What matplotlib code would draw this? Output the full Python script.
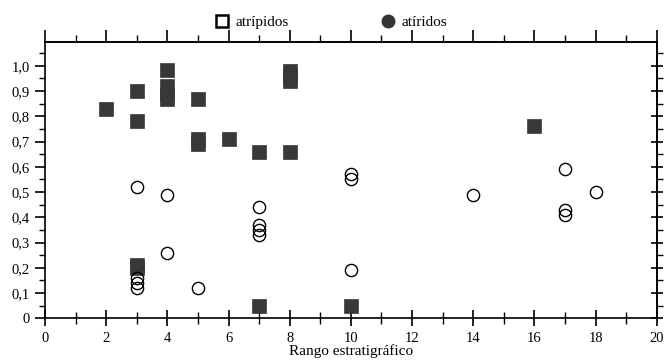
import numpy as np
import matplotlib
matplotlib.use("Agg")
import matplotlib.pyplot as plt
from matplotlib.lines import Line2D

plt.rcParams['font.family'] = ['Liberation Serif', 'DejaVu Serif']

# filled squares (drawn dark) and open circles
sq_x = [2, 3, 3, 3, 3, 4, 4, 4, 4, 5, 5, 5, 6, 7, 7, 8, 8, 8, 8, 10, 16]
sq_y = [0.83, 0.90, 0.78, 0.21, 0.20, 0.985, 0.92, 0.89, 0.87, 0.87, 0.71, 0.69,
        0.71, 0.66, 0.05, 0.66, 0.98, 0.96, 0.94, 0.05, 0.76]

ci_x = [3, 3, 3, 3, 4, 4, 5, 7, 7, 7, 7, 10, 10, 10, 14, 17, 17, 17, 18]
ci_y = [0.52, 0.16, 0.14, 0.12, 0.49, 0.26, 0.12, 0.44, 0.37, 0.35, 0.33,
        0.57, 0.55, 0.19, 0.49, 0.59, 0.43, 0.41, 0.50]

y_ticks = [0, 0.1, 0.2, 0.3, 0.4, 0.5, 0.6, 0.7, 0.8, 0.9, 1.0]
y_labels = ["0", "0,1", "0,2", "0,3", "0,4", "0,5", "0,6", "0,7", "0,8", "0,9", "1,0"]
x_ticks = [0, 2, 4, 6, 8, 10, 12, 14, 16, 18, 20]

fig = plt.figure(figsize=(6.66, 3.62), dpi=100)
ax = fig.add_axes([0.0676, 0.1207, 0.9185, 0.7633])

ax.plot(sq_x, sq_y, linestyle='none', marker='s', ms=9.6,
        mfc='#383838', mec='#383838', mew=0.5, zorder=3)
ax.plot(ci_x, ci_y, linestyle='none', marker='o', ms=8.8,
        mfc='none', mec='black', mew=1.0, zorder=4)

ax.set_xlim(0, 20)
ax.set_ylim(0, 1.094)

ax.set_xticks(x_ticks)
ax.set_xticks(np.arange(1, 20, 2), minor=True)
ax.set_yticks(y_ticks)
ax.set_yticklabels(y_labels)
ax.set_yticks(np.arange(0.05, 1.09, 0.1), minor=True)

for s in ax.spines.values():
    s.set_linewidth(1.2)

ax.tick_params(axis='x', which='major', direction='inout', length=12, width=1.2,
               labelsize=10.5, pad=4)
ax.tick_params(axis='x', which='minor', direction='inout', length=8, width=1.0)
ax.tick_params(axis='y', which='major', direction='out', length=7, width=1.2,
               labelsize=10.5, pad=4)
ax.tick_params(axis='y', which='minor', direction='out', length=4, width=1.0)

# top and right axes carry their own ticks
top = ax.secondary_xaxis('top')
top.set_xticks(x_ticks)
top.set_xticks(np.arange(1, 20, 2), minor=True)
top.tick_params(which='major', direction='out', length=9, width=1.2, labeltop=False)
top.tick_params(which='minor', direction='out', length=5, width=1.0)
top.spines['top'].set_linewidth(1.2)

right = ax.secondary_yaxis('right')
right.set_yticks(y_ticks)
right.set_yticks(np.arange(0.05, 1.09, 0.1), minor=True)
right.tick_params(which='major', direction='inout', length=9, width=1.2, labelright=False)
right.tick_params(which='minor', direction='out', length=4, width=1.0)
right.spines['right'].set_linewidth(1.2)

ax.set_xlabel("Rango estratigráfico", fontsize=11, labelpad=-1)

legend_opts = dict(frameon=False, loc='center left', fontsize=11, borderpad=0,
                   borderaxespad=0, handlelength=1.0, handletextpad=0.4)
leg1 = fig.legend([Line2D([], [], linestyle='none', marker='s', ms=8.5, mfc='white',
                          mec='black', mew=1.8)], ["atrípidos"],
                  bbox_to_anchor=(214 / 666, 0.939), **legend_opts)
leg2 = fig.legend([Line2D([], [], linestyle='none', marker='o', ms=9, mfc='#333333',
                          mec='#333333')], ["atíridos"],
                  bbox_to_anchor=(380 / 666, 0.939), **legend_opts)

fig.savefig("out.png", dpi=100)
